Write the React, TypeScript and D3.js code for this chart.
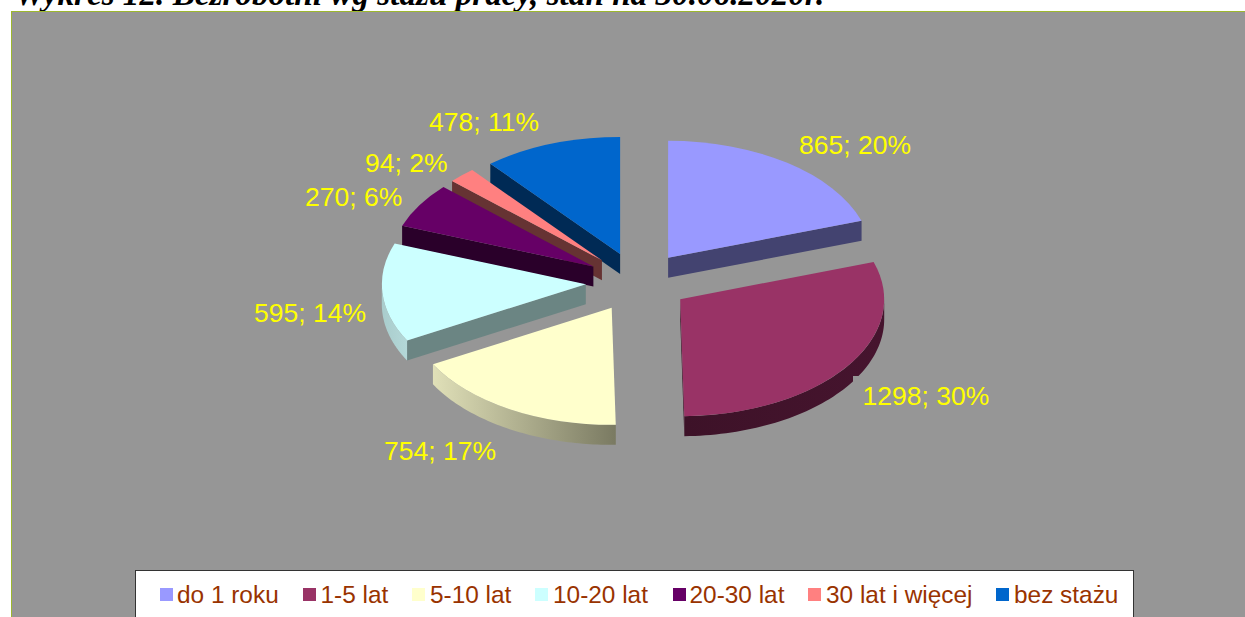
import React from "react";
import * as d3 from "d3";

const categories = ["do 1 roku", "1-5 lat", "5-10 lat", "10-20 lat", "20-30 lat", "30 lat i więcej", "bez stażu"];
const values = [865, 1298, 754, 595, 270, 94, 478];
const percents = [20, 30, 17, 14, 6, 2, 11];
const topColors = ["#9999FF", "#993366", "#FFFFCC", "#CCFFFF", "#660066", "#FF8080", "#0066CC"];
const wallColors = ["#434370", "#3D1228", "#7F7F66", "#6B8583", "#2A002A", "#663333", "#002A55"];
const rimLeftColors = ["#434370", "#3D1228", "#E0E0B8", "#A9CCCC", "#2A002A", "#663333", "#002A55"];
const rimRightColors = ["#434370", "#46142E", "#7A7A62", "#B4D8D8", "#2A002A", "#663333", "#002A55"];
const labelAnchors: [number, number][] = [[799, 154], [862.5, 405], [384, 460], [254, 322], [305, 206], [365, 172], [429, 131]];
const legendSwatchX = [160, 303, 412, 535, 673, 808, 996];
const legendTextX = [177, 320.5, 430, 553, 689.5, 826, 1014];
const paintOrder = [6, 5, 4, 3, 0, 1, 2];

const cx = 637.7, cy = 282, rx = 204, ry = 117, depth = 20, explode = 0.255;
const TAU = Math.PI * 2;

const pie = d3.pie<number>().sort(null).startAngle(0).endAngle(TAU);
const arcs = pie(values);
const unitArc = d3.arc<any>().innerRadius(0).outerRadius(1);
const px = d3.scaleLinear().domain([-1, 1]).range([-rx, rx]);
const py = d3.scaleLinear().domain([-1, 1]).range([-ry, ry]);
const line = d3.line<[number, number]>();

function pt(a: number, o: [number, number], dy = 0): [number, number] {
  return [o[0] + px(Math.sin(a)), o[1] + py(-Math.cos(a)) + dy];
}
function apex(a: { startAngle: number; endAngle: number }): [number, number] {
  const m = (a.startAngle + a.endAngle) / 2;
  return [cx + px(explode * Math.sin(m)), cy + py(-explode * Math.cos(m))];
}
function rimPath(a0: number, a1: number, o: [number, number]) {
  const n = 60;
  const ts = d3.range(n + 1).map((i) => a0 + ((a1 - a0) * i) / n);
  return line([...ts.map((t) => pt(t, o)), ...ts.slice().reverse().map((t) => pt(t, o, depth))]) + "Z";
}
function wallPath(a: number, o: [number, number]) {
  const e = pt(a, o);
  return line([o, e, [e[0], e[1] + depth], [o[0], o[1] + depth]]) + "Z";
}

export default function App() {
  return (
    <svg width={1245} height={617} viewBox="0 0 1245 617" style={{ position: "absolute", left: 0, top: 0, background: "#fff" }}>
      <defs>
        {arcs.map((_, i) => (
          <linearGradient id={`rim${i}`} key={i} x1="0" x2="1" y1="0" y2="0">
            <stop offset="0" stopColor={rimLeftColors[i]} />
            <stop offset="1" stopColor={rimRightColors[i]} />
          </linearGradient>
        ))}
      </defs>
      <text x={15} y={5} fontFamily="'Liberation Serif'" fontWeight="bold" fontStyle="italic" fontSize={33.2} fill="#000">
        Wykres 12. Bezrobotni wg stażu pracy, stan na 30.06.2020r.
      </text>
      <rect x={11.5} y={11.5} width={1240} height={610} fill="#969696" stroke="#9DB82E" strokeWidth={1} />
      {paintOrder.map((i) => {
        const a = arcs[i];
        const o = apex(a);
        const s = a.startAngle, e = a.endAngle;
        const rim0 = Math.max(s, Math.PI / 2), rim1 = Math.min(e, (3 * Math.PI) / 2);
        return (
          <g key={i}>
            {Math.sin(e) > 0 && <path d={wallPath(e, o)} fill={wallColors[i]} />}
            {Math.sin(s) < 0 && <path d={wallPath(s, o)} fill={wallColors[i]} />}
            {rim1 > rim0 && <path d={rimPath(rim0, rim1, o)} fill={`url(#rim${i})`} />}
            <path
              d={unitArc({ startAngle: s, endAngle: e }) as string}
              transform={`translate(${o[0]},${o[1]}) scale(${rx},${ry})`}
              fill={topColors[i]}
            />
          </g>
        );
      })}
      <rect x={853} y={376} width={140} height={34} fill="#969696" />
      {arcs.map((_, i) => (
        <text key={i} x={labelAnchors[i][0]} y={labelAnchors[i][1]} fontFamily="'Liberation Sans'" fontSize={26.5} fill="#FFFF00">
          {`${values[i]}; ${percents[i]}%`}
        </text>
      ))}
      <rect x={135.5} y={570.5} width={998} height={60} fill="#fff" stroke="#333" strokeWidth={1} />
      {categories.map((c, i) => (
        <g key={c}>
          <rect x={legendSwatchX[i]} y={588} width={13} height={13} fill={topColors[i]} />
          <text x={legendTextX[i]} y={603} fontFamily="'Liberation Sans'" fontSize={24.4} fill="#993300">{c}</text>
        </g>
      ))}
    </svg>
  );
}
